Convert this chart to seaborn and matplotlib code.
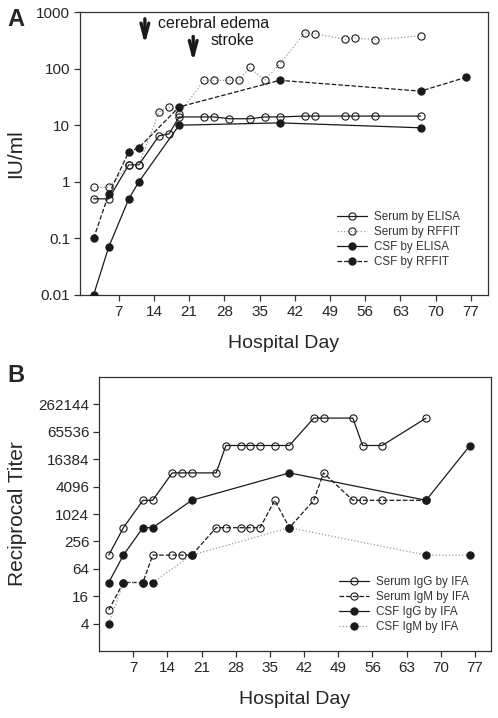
import matplotlib
matplotlib.use("Agg")
import matplotlib.pyplot as plt
import seaborn as sns

# Panel A: rabies antibody levels (IU/ml)
serum_elisa_days = [2, 5, 9, 11, 15, 17, 19, 24, 26, 29, 33, 36, 39, 44, 46, 52, 54, 58, 67]
serum_elisa_iu = [0.5, 0.5, 2, 2, 6.5, 7, 14, 14, 14, 13, 13, 14, 14, 14.5, 14.5, 14.5, 14.5, 14.5, 14.5]
serum_rffit_days = [2, 5, 9, 11, 15, 17, 19, 24, 26, 29, 31, 33, 36, 39, 44, 46, 52, 54, 58, 67]
serum_rffit_iu = [0.8, 0.8, 2, 2, 17, 21, 16, 62, 62, 62, 62, 105, 62, 120, 430, 410, 330, 345, 325, 380]
csf_elisa_days = [2, 5, 9, 11, 19, 39, 67]
csf_elisa_iu = [0.01, 0.07, 0.5, 1, 10, 11, 9]
csf_rffit_days = [2, 5, 9, 11, 19, 39, 67, 76]
csf_rffit_iu = [0.1, 0.6, 3.4, 4, 21, 62, 40, 70]

# Panel B: reciprocal IFA titers
serum_igg_days = [2, 5, 9, 11, 15, 17, 19, 24, 26, 29, 31, 33, 36, 39, 44, 46, 52, 54, 58, 67]
serum_igg_titer = [128, 512, 2048, 2048, 8192, 8192, 8192, 8192, 32768, 32768, 32768, 32768,
                   32768, 32768, 131072, 131072, 131072, 32768, 32768, 131072]
serum_igm_days = [2, 5, 9, 11, 15, 17, 19, 24, 26, 29, 31, 33, 36, 39, 44, 46, 52, 54, 58, 67]
serum_igm_titer = [8, 32, 32, 128, 128, 128, 128, 512, 512, 512, 512, 512, 2048, 512,
                   2048, 8192, 2048, 2048, 2048, 2048]
csf_igg_days = [2, 5, 9, 11, 19, 39, 67, 76]
csf_igg_titer = [32, 128, 512, 512, 2048, 8192, 2048, 32768]
csf_igm_days = [2, 5, 9, 11, 19, 39, 67, 76]
csf_igm_titer = [4, 32, 32, 32, 128, 512, 128, 128]

day_ticks = [7, 14, 21, 28, 35, 42, 49, 56, 63, 70, 77]
iu_ticks = [0.01, 0.1, 1, 10, 100, 1000]
iu_labels = ['0.01', '0.1', '1', '10', '100', '1000']
titer_ticks = [4, 16, 64, 256, 1024, 4096, 16384, 65536, 262144]

sns.set_style("ticks")
plt.rcParams['font.family'] = ['Liberation Sans', 'DejaVu Sans']

ink = '#1a1a1a'
light = '#9a9a9a'
open_mk = dict(marker='o', markersize=5.2, markerfacecolor='none', markeredgecolor=ink, markeredgewidth=0.8)
fill_mk = dict(marker='o', markersize=5.2, markerfacecolor=ink, markeredgecolor=ink, markeredgewidth=0.8)


def series(ax, days, vals, label, mk, color, ls, dashes=None, z=2):
    kw = dict(mk)
    if dashes is not None:
        kw['dashes'] = dashes
    sns.lineplot(x=days, y=vals, ax=ax, label=label, color=color, linestyle=ls,
                 linewidth=0.9, zorder=z, sort=False, estimator=None, **kw)


def style_axes(ax):
    for s in ax.spines.values():
        s.set_color('#333333')
        s.set_linewidth(0.9)
    ax.tick_params(direction='out', length=4, width=0.9, color='#333333', labelsize=11, pad=3)
    ax.set_xticks(day_ticks)
    ax.set_xticklabels([str(d) for d in day_ticks])
    ax.set_xlabel('Hospital Day', fontsize=14, labelpad=12)


fig = plt.figure(figsize=(4.98, 7.18), dpi=100)

# ---------- Panel A ----------
axA = fig.add_axes([80 / 498, 1 - 295 / 718, 408 / 498, 283 / 718])
series(axA, serum_elisa_days, serum_elisa_iu, 'Serum by ELISA', open_mk, ink, '-')
series(axA, serum_rffit_days, serum_rffit_iu, 'Serum by RFFIT', open_mk, light, ':', dashes=(1, 2))
series(axA, csf_elisa_days, csf_elisa_iu, 'CSF by ELISA', fill_mk, ink, '-', z=3)
series(axA, csf_rffit_days, csf_rffit_iu, 'CSF by RFFIT', fill_mk, ink, '--', dashes=(6, 3.5), z=3)
axA.set_yscale('log')
axA.set_ylim(0.01, 1000)
axA.set_xlim(-0.7, 80.4)
axA.set_yticks(iu_ticks)
axA.set_yticklabels(iu_labels)
axA.minorticks_off()
style_axes(axA)
axA.set_ylabel('IU/ml', fontsize=15, labelpad=8)

arrow = dict(arrowstyle='->,head_length=0.75,head_width=0.2', lw=2.4, color=ink,
             mutation_scale=14, shrinkA=0, shrinkB=0)
axA.annotate('', xy=(12.2, 270), xytext=(12.2, 760), arrowprops=arrow)
axA.annotate('', xy=(21.8, 133), xytext=(21.8, 370), arrowprops=arrow)
axA.text(14.8, 620, 'cerebral edema', fontsize=11.5, va='center', ha='left', color=ink)
axA.text(25.2, 310, 'stroke', fontsize=11.5, va='center', ha='left', color=ink)

legA = axA.legend(loc='upper left', bbox_to_anchor=(337 / 498, 1 - 211 / 718),
                  bbox_transform=fig.transFigure, frameon=False, fontsize=8.4,
                  handlelength=2.6, handletextpad=0.6, labelspacing=0.25,
                  borderpad=0, borderaxespad=0)
for t in legA.get_texts():
    t.set_color('#333333')

# ---------- Panel B ----------
axB = fig.add_axes([99 / 498, 1 - 651 / 718, 392 / 498, 274 / 718])
series(axB, serum_igg_days, serum_igg_titer, 'Serum IgG by IFA', open_mk, ink, '-')
series(axB, serum_igm_days, serum_igm_titer, 'Serum IgM by IFA', open_mk, ink, '--', dashes=(6, 3.5))
series(axB, csf_igg_days, csf_igg_titer, 'CSF IgG by IFA', fill_mk, ink, '-', z=3)
series(axB, csf_igm_days, csf_igm_titer, 'CSF IgM by IFA', fill_mk, light, ':', dashes=(1, 2), z=3)
axB.set_yscale('log', base=2)
axB.set_ylim(1, 2 ** 20)
axB.set_xlim(0, 80.3)
axB.set_yticks(titer_ticks)
axB.set_yticklabels([str(t) for t in titer_ticks])
axB.minorticks_off()
style_axes(axB)
axB.set_ylabel('Reciprocal Titer', fontsize=15, labelpad=8)

legB = axB.legend(loc='upper left', bbox_to_anchor=(339 / 498, 1 - 576 / 718),
                  bbox_transform=fig.transFigure, frameon=False, fontsize=8.4,
                  handlelength=2.6, handletextpad=0.6, labelspacing=0.25,
                  borderpad=0, borderaxespad=0)
for t in legB.get_texts():
    t.set_color('#333333')

fig.text(7 / 498, 1 - 20 / 718, 'A', fontsize=17, fontweight='bold', va='center', ha='left')
fig.text(7 / 498, 1 - 375 / 718, 'B', fontsize=17, fontweight='bold', va='center', ha='left')

fig.savefig('out.png', dpi=100)
